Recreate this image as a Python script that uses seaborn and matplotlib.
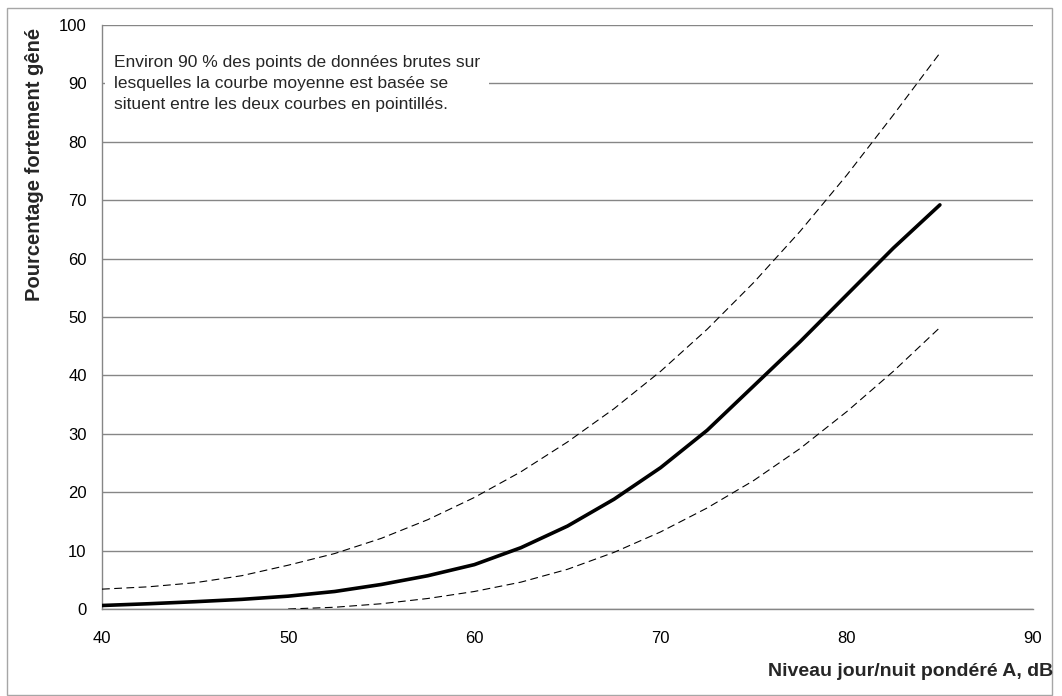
"""Pourcentage fortement gêné vs niveau jour/nuit pondéré A."""

import numpy as np
import pandas as pd
import matplotlib
matplotlib.use('Agg')
import matplotlib.pyplot as plt
import seaborn as sns
from matplotlib.patches import Rectangle
from matplotlib.ticker import MultipleLocator

sns.set_theme(style="white")
plt.rcParams['font.family'] = ['Liberation Sans', 'DejaVu Sans']

# Data (dB -> % highly annoyed)
level_db = [40, 42.5, 45, 47.5, 50, 52.5, 55, 57.5, 60, 62.5, 65, 67.5, 70,
            72.5, 75, 77.5, 80, 82.5, 85]
mean_curve = [0.6, 0.9, 1.25, 1.65, 2.2, 3.0, 4.2, 5.7, 7.6, 10.5, 14.2, 18.8,
              24.2, 30.6, 38.2, 45.8, 53.8, 61.8, 69.2]
upper_curve = [3.4, 3.8, 4.5, 5.7, 7.5, 9.5, 12.1, 15.3, 19.1, 23.5, 28.6,
               34.3, 40.7, 47.9, 55.9, 64.7, 74.3, 84.6, 95.2]
lower_level_db = [50, 52.5, 55, 57.5, 60, 62.5, 65, 67.5, 70, 72.5, 75,
                  77.5, 80, 82.5, 85]
lower_curve = [0.0, 0.3, 0.9, 1.8, 3.0, 4.6, 6.8, 9.7, 13.2, 17.3, 22.0,
               27.5, 33.8, 40.7, 48.2]

x_ticks = [40, 50, 60, 70, 80, 90]
y_ticks = [0, 10, 20, 30, 40, 50, 60, 70, 80, 90, 100]

note = ("Environ 90 % des points de données brutes sur\n"
        "lesquelles la courbe moyenne est basée se\n"
        "situent entre les deux courbes en pointillés.")

W, H = 1062, 696
fig = plt.figure(figsize=(W / 100, H / 100), dpi=100)
ax = fig.add_axes([102 / W, (H - 609) / H, (1033 - 102) / W, (609 - 25) / H])

grey = "#868686"

df_main = pd.DataFrame({"x": level_db, "mean": mean_curve, "upper": upper_curve})
df_low = pd.DataFrame({"x": lower_level_db, "lower": lower_curve})

# dashed 90 % envelope, then the mean curve on top
sns.lineplot(data=df_main, x="x", y="upper", ax=ax, color="black", lw=0.8,
             linestyle=(0, (7, 4)), zorder=3)
sns.lineplot(data=df_low, x="x", y="lower", ax=ax, color="black", lw=0.8,
             linestyle=(0, (7, 4)), zorder=3)
sns.lineplot(data=df_main, x="x", y="mean", ax=ax, color="black", lw=2.6,
             zorder=4)

ax.set_xlim(40, 90)
ax.set_ylim(0, 100)
ax.set_xticks(x_ticks)
ax.set_yticks(y_ticks)
ax.xaxis.set_minor_locator(MultipleLocator(5))
ax.set_xlabel("")
ax.set_ylabel("")

ax.grid(axis="y", color=grey, lw=1)
ax.set_axisbelow(True)
for side in ["top", "right"]:
    ax.spines[side].set_visible(False)
for side in ["left", "bottom"]:
    ax.spines[side].set_color(grey)
    ax.spines[side].set_linewidth(1)

ax.tick_params(axis="x", which="major", direction="inout", length=9, width=1,
               color=grey, labelsize=12, pad=11, labelcolor="black")
ax.tick_params(axis="x", which="minor", direction="in", length=4, width=1,
               color=grey)
ax.tick_params(axis="y", which="major", direction="out", length=5, width=1,
               color=grey, labelsize=12, pad=6, labelcolor="black")

ax.text(40.64, 94.8, note, fontsize=12.5, va="top", ha="left", linespacing=1.5,
        zorder=5,
        bbox=dict(boxstyle="square,pad=0.5", facecolor="white", edgecolor="none"))

fig.text(35 / W, 1 - 28 / H, "Pourcentage fortement gêné", rotation=90,
         ha="center", va="top", fontsize=14.5, fontweight="bold")
fig.text(1053 / W, 1 - 672 / H, "Niveau jour/nuit pondéré A, dB",
         ha="right", va="center", fontsize=14, fontweight="bold")

# light frame around the whole chart
fig.patches.append(Rectangle((7 / W, 1 - 695 / H), (1052 - 7) / W, (695 - 8) / H,
                             transform=fig.transFigure, fill=False,
                             edgecolor="#a6a6a6", lw=1))

fig.savefig("out.png", dpi=100)
